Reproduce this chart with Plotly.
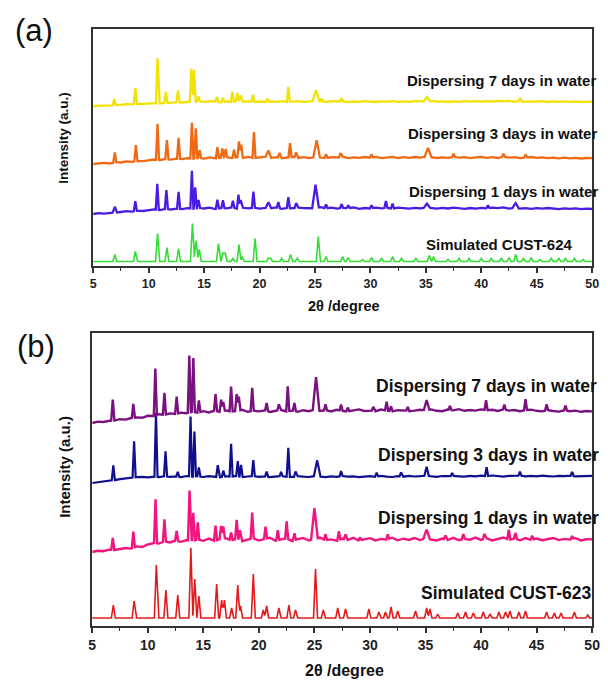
import numpy as np
import plotly.graph_objects as go

# ---------------------------------------------------------------------------
# Data: PXRD patterns, 2-theta from 5 to 50 degrees.
# Baselines are sampled every 0.5 degree; peaks are (2theta, height[, half-width]).
# ---------------------------------------------------------------------------
GRID = [5.0 + 0.5 * i for i in range(91)]

# ---- panel (a): CUST-624 ----
base_a_7d = [0, 0.3, 0.6, 0.4, 1.0, 1.2, 1.8, 1.6, 2.4, 2.2,
             2.8, 3.0, 2.6, 3.4, 3.2, 3.8, 3.5, 4.0, 4.2, 4.6,
             4.2, 4.8, 4.4, 3.6, 4.6, 4.0, 4.9, 4.3, 4.7, 4.1,
             4.5, 3.9, 4.6, 4.2, 4.8, 4.0, 4.4, 4.9, 4.1, 4.6,
             5.0, 4.6, 4.2, 4.8, 4.3, 4.7, 3.9, 4.5, 4.1, 4.8,
             4.4, 4.0, 4.7, 4.3, 4.9, 4.1, 4.6, 4.2, 4.8, 4.4,
             4.9, 5.0, 4.3, 4.6, 4.0, 4.7, 4.2, 4.9, 4.4, 4.8,
             4.3, 4.9, 4.5, 5.1, 4.6, 5.2, 4.4, 4.8, 4.2, 4.7,
             4.3, 4.8, 4.0, 4.6, 4.2, 4.7, 4.1, 4.5, 4.0, 4.4,
             4.3]
peaks_a_7d = [(6.9, 6), (8.8, 16), (10.8, 45), (11.55, 11), (12.65, 12),
              (13.85, 33), (14.1, 32), (14.5, 5), (16.15, 5), (16.7, 4),
              (17.55, 10), (18.0, 8), (18.3, 6), (19.4, 7), (20.7, 3),
              (22.6, 15), (25.1, 11, 0.3), (25.6, 3), (27.4, 3),
              (35.1, 4, 0.3), (43.5, 3)]

base_a_3d = [0, 0.6, 1.2, 0.5, 1.8, 1.5, 2.6, 2.2, 3.2, 2.8,
             3.8, 4.5, 3.9, 5.0, 4.4, 5.4, 4.8, 5.8, 5.2, 6.0,
             5.4, 6.6, 5.6, 6.2, 7.0, 5.8, 6.8, 6.0, 7.1, 5.9,
             6.6, 7.4, 6.0, 6.9, 5.7, 6.5, 7.2, 6.1, 6.8, 5.8,
             7.0, 6.4, 5.8, 6.9, 6.2, 7.3, 5.9, 6.7, 6.1, 7.0,
             6.3, 7.1, 5.8, 6.6, 7.2, 6.0, 6.8, 6.2, 7.0, 6.4,
             7.4, 6.8, 6.0, 6.7, 6.1, 7.2, 6.3, 6.9, 5.9, 6.6,
             7.1, 6.2, 6.8, 6.0, 7.3, 6.4, 6.9, 5.8, 6.5, 7.0,
             6.1, 6.7, 5.9, 6.4, 5.7, 6.3, 5.6, 6.2, 5.5, 6.0,
             5.8]
peaks_a_3d = [(6.95, 10), (8.85, 16), (10.8, 36), (11.65, 19), (12.7, 21),
              (13.9, 36), (14.25, 30), (14.6, 8), (16.2, 11), (16.65, 9),
              (16.95, 8), (17.7, 8), (18.15, 16), (18.35, 13), (19.5, 26),
              (20.8, 7, 0.25), (21.8, 5), (22.75, 14), (23.3, 5),
              (25.15, 17, 0.3), (26.0, 4), (27.3, 4), (30.1, 3),
              (35.2, 9, 0.3), (37.5, 3), (42.0, 3), (44.0, 3)]

base_a_1d = [0, 0.8, 0.4, 1.4, 1.2, 2.0, 2.8, 2.4, 3.3, 3.0,
             4.0, 4.6, 3.8, 5.1, 4.5, 5.4, 4.9, 5.8, 5.2, 6.1,
             5.5, 6.3, 5.0, 6.0, 5.6, 6.5, 5.3, 6.2, 5.7, 6.4,
             5.4, 6.1, 5.7, 6.6, 5.2, 6.0, 5.5, 6.4, 5.8, 5.3,
             6.2, 6.8, 5.6, 6.3, 5.4, 6.1, 5.8, 6.5, 5.2, 6.0,
             5.5, 6.3, 5.7, 6.2, 5.4, 6.4, 5.9, 5.3, 6.1, 5.6,
             6.4, 6.0, 5.3, 6.1, 5.5, 6.3, 5.7, 5.2, 6.0, 5.4,
             6.1, 5.6, 6.3, 5.8, 6.6, 5.4, 6.0, 5.3, 5.9, 5.2,
             5.8, 5.3, 6.0, 5.5, 4.9, 5.6, 5.1, 5.7, 4.8, 5.4,
             5.0]
peaks_a_1d = [(6.95, 6, 0.2), (8.8, 10), (10.78, 26), (11.6, 19), (12.7, 17),
              (13.9, 38), (14.2, 21), (14.5, 8), (16.2, 9), (16.7, 8),
              (17.6, 7), (18.1, 14), (18.3, 8), (19.45, 16), (20.8, 6, 0.25),
              (21.7, 6), (22.6, 11), (23.3, 5), (25.05, 23, 0.3), (26.0, 4),
              (27.4, 4), (28.0, 3), (30.1, 3), (31.4, 7), (32.0, 5),
              (35.1, 4, 0.3), (40.6, 3), (43.1, 5, 0.3)]

peaks_a_sim = [(6.95, 7), (8.8, 10), (10.8, 28), (11.65, 14), (12.7, 13),
               (13.95, 38), (14.27, 21), (14.57, 12), (16.3, 18), (16.7, 9),
               (16.9, 9), (17.6, 3), (18.15, 17), (18.45, 5), (19.6, 23),
               (20.8, 4), (21.0, 3), (22.0, 3), (22.8, 7), (23.4, 3),
               (25.3, 25), (26.0, 5), (27.5, 5), (28.0, 4), (29.3, 2),
               (30.1, 4), (31.0, 3), (32.0, 5), (32.8, 3), (34.1, 3),
               (35.3, 6), (35.7, 5), (37.0, 2), (38.0, 3), (38.9, 3),
               (40.0, 3), (40.9, 3), (41.8, 3), (42.5, 4), (43.1, 7),
               (43.8, 3), (44.5, 4), (45.3, 2), (46.3, 3), (47.0, 3),
               (47.6, 3), (48.4, 3), (49.2, 2)]

# ---- panel (b): CUST-623 ----
base_b_7d = [0, 1.4, 1.0, 2.6, 2.4, 3.8, 3.4, 5.0, 5.6, 5.2,
             7.2, 6.8, 8.8, 8.2, 9.6, 9.0, 10.4, 9.8, 11.2, 10.4,
             11.8, 10.6, 12.2, 11.0, 12.6, 11.4, 12.0, 13.2, 11.2, 12.4,
             11.6, 12.8, 11.0, 12.2, 13.0, 11.4, 12.6, 11.2, 12.8, 11.8,
             13.4, 12.0, 12.8, 11.6, 13.2, 12.2, 11.4, 12.8, 13.6, 12.0,
             12.6, 11.8, 13.4, 12.4, 11.6, 12.8, 13.0, 11.8, 12.4, 13.2,
             12.8, 13.6, 12.2, 11.8, 13.4, 12.6, 13.8, 12.2, 13.0, 12.4,
             13.6, 12.8, 13.2, 12.0, 13.6, 12.4, 13.0, 11.8, 12.8, 13.4,
             12.2, 11.6, 12.8, 12.0, 11.4, 12.6, 11.8, 12.4, 11.2, 12.0,
             11.6]
peaks_b_7d = [(6.85, 21), (8.7, 14), (10.68, 47), (11.5, 22), (12.6, 17),
              (13.74, 57), (14.1, 54), (14.6, 12), (16.1, 17), (16.6, 12),
              (16.8, 9), (17.5, 25), (18.0, 17), (18.2, 14), (19.4, 23),
              (20.7, 8), (21.8, 6), (22.6, 25), (23.2, 8), (25.15, 33, 0.3),
              (26.0, 6), (27.4, 6), (28.0, 4), (30.3, 4), (31.5, 9),
              (31.9, 5), (33.4, 4), (35.1, 10, 0.25), (37.2, 4), (40.45, 10),
              (42.1, 5), (44.0, 11), (45.9, 6), (47.6, 5)]

base_b_3d = [0, 0.8, 1.5, 2.4, 2.8, 3.8, 4.6, 5.4, 5.8, 6.2,
             5.6, 6.4, 5.9, 6.8, 6.1, 6.6, 5.8, 7.0, 6.3, 6.7,
             6.0, 6.9, 6.2, 5.7, 6.8, 6.3, 7.1, 5.9, 6.5, 6.9,
             6.1, 6.7, 5.8, 6.4, 7.0, 6.2, 5.9, 6.8, 6.3, 6.0,
             6.9, 6.4, 5.8, 6.6, 6.1, 7.0, 6.3, 6.7, 5.9, 6.5,
             6.8, 6.2, 7.1, 6.4, 6.0, 6.9, 6.3, 7.2, 6.5, 6.8,
             7.4, 6.6, 6.2, 7.0, 6.5, 7.2, 6.7, 6.3, 7.1, 6.6,
             7.3, 6.8, 7.5, 6.9, 6.4, 7.2, 6.8, 7.4, 6.6, 7.1,
             6.7, 7.3, 6.9, 6.5, 7.2, 6.8, 7.4, 6.6, 7.0, 6.9,
             7.2]
peaks_b_3d = [(6.9, 15), (8.77, 36), (10.74, 64), (11.6, 25), (12.7, 5),
              (13.85, 60), (14.2, 45), (14.6, 9), (16.3, 12), (16.8, 6),
              (17.5, 33), (18.1, 15), (18.4, 12), (19.5, 16), (20.7, 5),
              (22.0, 4), (22.65, 29), (23.3, 5), (25.25, 16, 0.3), (27.4, 5),
              (30.6, 4), (32.8, 4), (35.1, 9, 0.2), (37.4, 3), (40.5, 9),
              (43.5, 4), (48.2, 4)]

base_b_1d = [0, 1.2, 0.8, 2.4, 2.0, 3.2, 4.0, 3.4, 5.6, 5.0,
             7.5, 9.0, 8.4, 10.6, 9.6, 11.4, 10.2, 12.0, 10.8, 12.6,
             11.2, 13.4, 11.0, 12.8, 14.0, 11.6, 13.2, 10.8, 12.4, 13.8,
             11.4, 13.0, 14.2, 11.2, 12.6, 13.6, 10.9, 12.9, 14.0, 11.5,
             13.0, 14.4, 11.8, 12.6, 10.9, 13.4, 12.0, 14.2, 11.3, 12.8,
             13.8, 11.6, 13.1, 12.2, 14.3, 11.7, 13.3, 12.1, 14.0, 11.9,
             13.6, 12.4, 11.5, 13.5, 12.0, 14.1, 11.8, 13.2, 12.3, 14.4,
             12.1, 13.7, 11.6, 13.0, 14.5, 12.2, 13.4, 11.7, 13.9, 12.0,
             13.5, 11.8, 12.9, 14.0, 11.9, 13.1, 12.4, 13.8, 11.6, 12.8,
             12.6]
peaks_b_1d = [(6.85, 12), (8.7, 16), (10.7, 44), (11.5, 22), (12.6, 10),
              (13.76, 50), (14.1, 28), (14.5, 17), (16.1, 15), (16.6, 13),
              (16.8, 12), (17.5, 8), (18.0, 19), (18.3, 10), (19.4, 26),
              (20.6, 12), (21.7, 10), (22.5, 17), (23.2, 7), (25.0, 31, 0.3),
              (26.0, 6), (27.2, 9), (27.8, 5), (29.1, 3), (31.6, 5),
              (35.1, 9, 0.3), (36.8, 4), (38.4, 5), (40.3, 5), (42.5, 10),
              (43.1, 6), (44.6, 4), (48.2, 3)]

peaks_b_sim = [(6.9, 13), (8.77, 17), (10.77, 53), (11.63, 28), (12.7, 23),
               (13.88, 70), (14.23, 39), (14.6, 22), (16.2, 34), (16.65, 18),
               (16.9, 18), (17.55, 10), (18.1, 33), (18.35, 12), (19.5, 44),
               (20.4, 8), (20.7, 12), (21.8, 10), (22.7, 13), (23.3, 8),
               (25.1, 49), (25.8, 8), (27.1, 10), (27.8, 9), (29.9, 9),
               (30.8, 6), (31.4, 6), (31.9, 11), (32.5, 7), (34.1, 7),
               (35.1, 10), (35.4, 9), (36.1, 4), (37.9, 5), (38.6, 6),
               (39.3, 5), (40.2, 6), (40.8, 4), (41.6, 6), (42.2, 6),
               (42.6, 7), (43.4, 6), (44.0, 7), (45.9, 6), (46.6, 5),
               (47.2, 5), (48.4, 6), (49.6, 3)]

FLAT = [0.0] * len(GRID)

labels_a = ["Dispersing 7 days in water", "Dispersing 3 days in water",
            "Dispersing 1 days in water", "Simulated CUST-624"]
labels_b = ["Dispersing 7 days in water", "Dispersing 3 days in water",
            "Dispersing 1 days in water", "Simulated CUST-623"]
x_ticks = [5, 10, 15, 20, 25, 30, 35, 40, 45, 50]


def pattern(base, peaks, hw_default):
    """Polyline through the baseline samples and every peak foot / apex."""
    grid = np.asarray(GRID)
    xs = set(GRID)
    for pk in peaks:
        hw = pk[2] if len(pk) > 2 else hw_default
        xs.update([pk[0] - hw, pk[0], pk[0] + hw])
    xs = np.array(sorted(x for x in xs if 5.0 <= x <= 50.0))
    ys = np.interp(xs, grid, np.asarray(base, dtype=float))
    for pk in peaks:
        hw = pk[2] if len(pk) > 2 else hw_default
        ys += pk[1] * np.clip(1.0 - np.abs(xs - pk[0]) / hw, 0.0, None)
    return xs, ys


FONT = "Liberation Sans, Arial, sans-serif"
W, H = 608, 680

fig = go.Figure()

# (base, peaks, vertical offset, colour, width, peak half-width)
panel_a = [
    (FLAT, peaks_a_sim, 4.5, "#33DD33", 1.6, 0.18),
    (base_a_1d, peaks_a_1d, 52, "#4A1BE0", 2.3, 0.14),
    (base_a_3d, peaks_a_3d, 102, "#F06A14", 2.3, 0.14),
    (base_a_7d, peaks_a_7d, 160, "#F2E205", 2.3, 0.14),
]
panel_b = [
    (FLAT, peaks_b_sim, 8, "#E31A1C", 1.6, 0.18),
    (base_b_1d, peaks_b_1d, 74, "#F2157F", 2.4, 0.14),
    (base_b_3d, peaks_b_3d, 143, "#10108F", 2.2, 0.14),
    (base_b_7d, peaks_b_7d, 203, "#7B1180", 2.4, 0.14),
]

for axes, spec in (("a", panel_a), ("b", panel_b)):
    for base, peaks, off, color, lw, hw in spec:
        x, y = pattern(base, peaks, hw)
        fig.add_trace(go.Scatter(
            x=x, y=y + off, mode="lines",
            line=dict(color=color, width=lw),
            xaxis="x" if axes == "a" else "x2",
            yaxis="y" if axes == "a" else "y2",
            showlegend=False, hoverinfo="skip"))


def px_x(v):
    return v / W


def px_y(v):
    return 1 - v / H


axis_common = dict(
    range=[5, 50], tickmode="array", tickvals=x_ticks,
    ticktext=[f"<b>{t}</b>" for t in x_ticks],
    ticks="outside", ticklen=5, tickwidth=1.5,
    tickcolor="#333333", showline=True, linecolor="#333333", linewidth=1.5,
    mirror=True, showgrid=False, zeroline=False,
    minor=dict(ticks="outside", ticklen=3, tickwidth=1.2, dtick=2.5,
               tickcolor="#333333", showgrid=False),
)
yaxis_common = dict(showticklabels=False, ticks="", showline=True,
                    linecolor="#333333", linewidth=1.5, mirror=True,
                    showgrid=False, zeroline=False)

fig.update_layout(
    width=W, height=H, autosize=False,
    margin=dict(l=0, r=0, t=0, b=0),
    paper_bgcolor="white", plot_bgcolor="white",
    xaxis=dict(axis_common, domain=[px_x(91), px_x(600)], anchor="y",
               tickfont=dict(family=FONT, size=12.5, color="#222222")),
    yaxis=dict(yaxis_common, range=[0, 237], domain=[px_y(266), px_y(29)], anchor="x"),
    xaxis2=dict(axis_common, domain=[px_x(90), px_x(600)], anchor="y2",
                tickfont=dict(family=FONT, size=14, color="#222222")),
    yaxis2=dict(yaxis_common, range=[0, 293], domain=[px_y(626), px_y(333)], anchor="x2"),
)

ann = []


def text(s, x, y, size, xanchor="center", bold=True, angle=0, color="#111111"):
    ann.append(dict(
        text=f"<b>{s}</b>" if bold else s, x=px_x(x), y=px_y(y),
        xref="paper", yref="paper", xanchor=xanchor, yanchor="middle",
        showarrow=False, textangle=angle, borderpad=0,
        font=dict(family=FONT, size=size, color=color)))


# panel tags
text("(a)", 31, 31, 31, bold=False)
text("(b)", 33, 346, 31, bold=False)

# axis titles
text("Intensity (a.u.)", 61, 138, 13.5, angle=-90)
text("Intensity (a.u.)", 61, 467, 15, angle=-90)
text("2θ /degree", 347, 306, 14.5)
text("2θ /degree", 347, 670, 16)

# curve labels, panel (a)
text(labels_a[0], 605, 80, 15, xanchor="right")
text(labels_a[1], 606, 134, 15, xanchor="right")
text(labels_a[2], 607, 191, 15, xanchor="right")
text(labels_a[3], 505, 244, 15)

# curve labels, panel (b)
text(labels_b[0], 606, 386, 17.5, xanchor="right")
text(labels_b[1], 608, 455, 17.5, xanchor="right")
text(labels_b[2], 608, 518, 17.5, xanchor="right")
text(labels_b[3], 512, 593, 17.5)

fig.update_layout(annotations=ann)
fig.write_html("out.html")
